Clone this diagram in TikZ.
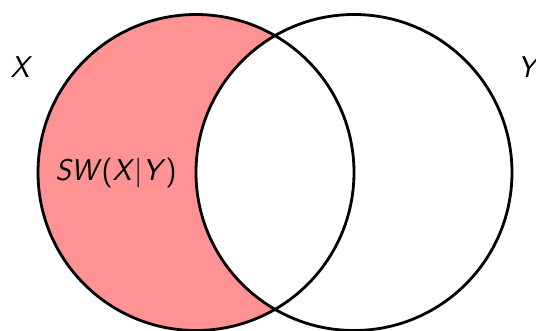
\documentclass[tikz,border=0pt]{standalone}
\definecolor{setpink}{RGB}{255,146,146}
\tikzset{
  setline/.style={line width=2.8pt, draw=black},
  lbl/.style={font=\fontsize{30}{36}\selectfont\sffamily, inner sep=0pt}
}
\begin{document}
\begin{tikzpicture}[x=1pt,y=-1pt]
\useasboundingbox (0,0) rectangle (536,331);
\coordinate (cx) at (196,172.5);
\coordinate (cy) at (354,172.5);
\begin{scope}
  \clip (cx) circle (158);
  \fill[setpink] (cx) circle (158);
  \fill[white] (cy) circle (158);
\end{scope}
\draw[setline] (cx) circle (158);
\draw[setline] (cy) circle (158);
\node[lbl] (lx) at (20,67) {\itshape X};
\node[lbl] (ly) at (527,67) {\itshape Y};
\node[lbl] (sw) at (116,173) {\textit{SW}(\textit{X}|\textit{Y})};
\end{tikzpicture}
\end{document}
